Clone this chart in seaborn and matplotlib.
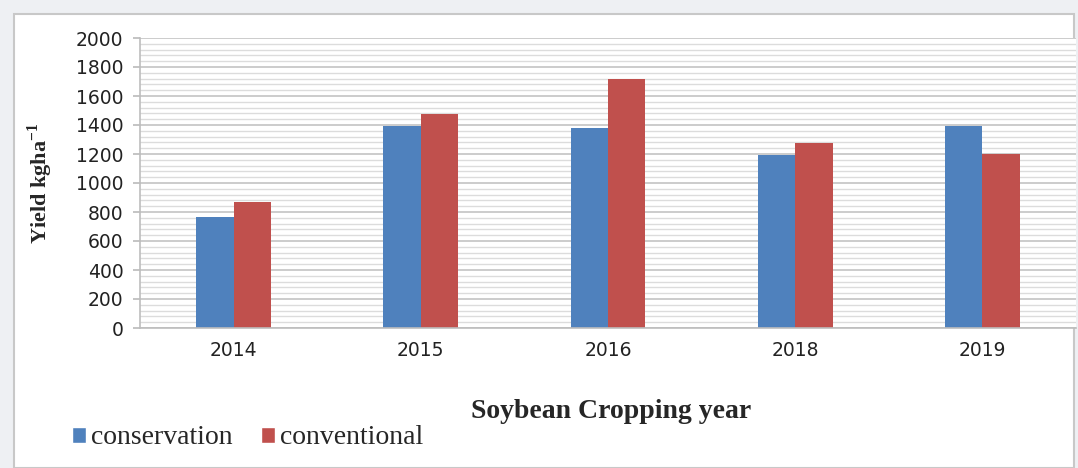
import numpy as np
import pandas as pd
import seaborn as sns
import matplotlib.pyplot as plt
from matplotlib.patches import Rectangle
from matplotlib.ticker import MultipleLocator

years = ["2014", "2015", "2016", "2018", "2019"]
conservation = [765, 1393, 1380, 1195, 1390]
conventional = [870, 1476, 1715, 1276, 1200]
series_names = ["conservation", "conventional"]
colors = ["#4f81bd", "#c0504d"]

df = pd.DataFrame({
    "year": years * 2,
    "yield": conservation + conventional,
    "practice": [series_names[0]] * len(years) + [series_names[1]] * len(years),
})

sns.set_theme(style="white")
plt.rcParams["font.family"] = ["DejaVu Sans"]
plt.rcParams["mathtext.fontset"] = "custom"
plt.rcParams["mathtext.rm"] = "Liberation Serif"
plt.rcParams["mathtext.bf"] = "Liberation Serif:bold"

fig = plt.figure(figsize=(10.78, 4.68), dpi=100)
fig.patch.set_facecolor("#eef0f3")
# white chart frame behind everything
fig.patches.append(Rectangle((14 / 1078, 0), 1060 / 1078, 454 / 468,
                             transform=fig.transFigure, facecolor="white",
                             edgecolor="#c8c8c8", linewidth=1.5, zorder=-5))

ax = fig.add_axes([140 / 1078, 1 - 328 / 468, 936 / 1078, 290 / 468])
ax.set_zorder(2)
sns.barplot(data=df, x="year", y="yield", hue="practice", palette=colors,
            width=0.4, saturation=1, linewidth=0, ax=ax, legend=False)

ax.set_ylim(0, 2000)
ax.yaxis.set_major_locator(MultipleLocator(200))
ax.yaxis.set_minor_locator(MultipleLocator(40))
ax.grid(which="major", axis="y", color="#c4c4c4", linewidth=1.2)
ax.grid(which="minor", axis="y", color="#dcdcdc", linewidth=1.0)
ax.set_axisbelow(True)

for s in ["top", "right"]:
    ax.spines[s].set_visible(False)
for s in ["left", "bottom"]:
    ax.spines[s].set_color("#bdbdbd")
    ax.spines[s].set_linewidth(1.2)

ax.tick_params(axis="y", which="major", length=5, color="#bdbdbd", left=True,
               labelsize=13.5, labelcolor="#222222", pad=7)
ax.tick_params(axis="y", which="minor", length=0)
ax.tick_params(axis="x", length=0, labelsize=13.5, labelcolor="#222222", pad=9)

ax.set_xlabel("")
ax.set_ylabel(r"Yield kgha$^{\mathbf{-1}}$", family="Liberation Serif",
              fontweight="bold", fontsize=16, labelpad=15)

fig.text(611 / 1078, 1 - 411 / 468, "Soybean Cropping year", ha="center", va="center",
         family="Liberation Serif", fontweight="bold", fontsize=20)

handles = [Rectangle((0, 0), 1, 1, facecolor=c) for c in colors]
fig.legend(handles, series_names, loc="center left",
           bbox_to_anchor=(72 / 1078, 1 - 438 / 468), ncol=2, frameon=False,
           prop={"family": "Liberation Serif", "size": 20},
           handlelength=0.5, handleheight=0.5, handletextpad=0.2, columnspacing=1.0,
           borderaxespad=0, borderpad=0)

fig.savefig("out.png", dpi=100, facecolor=fig.get_facecolor())
